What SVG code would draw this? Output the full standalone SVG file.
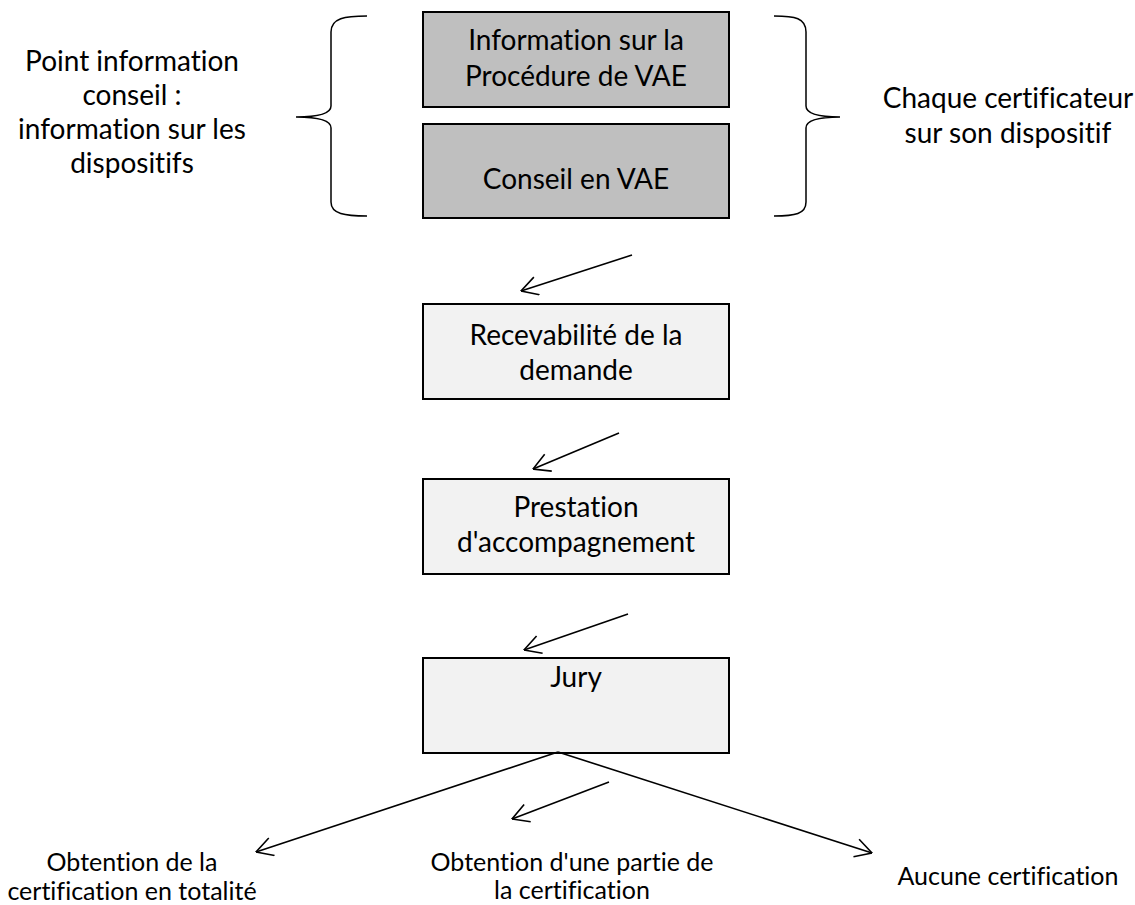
<svg xmlns="http://www.w3.org/2000/svg" width="1135" height="905" viewBox="0 0 1135 905">
<style>
text{font-family:Lato,"Open Sans","Liberation Sans",sans-serif;font-size:28px;fill:#000;text-anchor:middle;font-variant-ligatures:none;font-feature-settings:"liga" 0}
text.sm{font-size:25px}
.dark{fill:#bfbfbf;stroke:#000;stroke-width:2}
.light{fill:#f2f2f2;stroke:#000;stroke-width:2}
.brace{fill:none;stroke:#000;stroke-width:1.5}
.conn{fill:none;stroke:#000;stroke-width:1.6;marker-end:url(#arr)}
</style>
<defs>
<marker id="arr" viewBox="0 0 20 20" refX="19.5" refY="10" markerWidth="20" markerHeight="20" markerUnits="userSpaceOnUse" orient="auto">
<path d="M3,0.8 L19.5,10 L3,19.2" fill="none" stroke="#000" stroke-width="1.6"/>
</marker>
</defs>
<rect width="1135" height="905" fill="#fff"/>
<g id="info-procedure">
<rect class="dark" x="423" y="12" width="306" height="95"/>
<text x="576" y="50">Information sur la</text>
<text x="576" y="86">Procédure de VAE</text>
</g>
<g id="conseil-vae">
<rect class="dark" x="423" y="124" width="306" height="94"/>
<text x="576" y="189">Conseil en VAE</text>
</g>
<g id="left-brace">
<path class="brace" d="M367,16 C345,16 331,18 331,32 L331,106 C331,113 322,117 296,117 C322,117 331,121 331,128 L331,202 C331,214 345,216 367,216"/>
</g>
<g id="right-brace">
<path class="brace" d="M774,16 C795,16 806,18 806,32 L806,106 C806,113 815,117 840,117 C815,117 806,121 806,128 L806,202 C806,214 795,216 774,216"/>
</g>
<g id="point-info">
<text x="132" y="71">Point information</text>
<text x="132" y="105">conseil :</text>
<text x="132" y="139">information sur les</text>
<text x="132" y="173">dispositifs</text>
</g>
<g id="certificateur">
<text x="1008" y="108">Chaque certificateur</text>
<text x="1008" y="143">sur son dispositif</text>
</g>
<g id="recevabilite">
<rect class="light" x="423" y="304" width="306" height="95"/>
<text x="576" y="345">Recevabilité de la</text>
<text x="576" y="380">demande</text>
</g>
<g id="prestation">
<rect class="light" x="423" y="479" width="306" height="95"/>
<text x="576" y="517">Prestation</text>
<text x="576" y="552">d'accompagnement</text>
</g>
<g id="jury">
<rect class="light" x="423" y="658" width="306" height="95"/>
<text x="576" y="687">Jury</text>
</g>
<g id="totalite">
<text class="sm" x="132" y="871">Obtention de la</text>
<text class="sm" x="132" y="900">certification en totalité</text>
</g>
<g id="partie">
<text class="sm" x="572" y="871">Obtention d'une partie de</text>
<text class="sm" x="572" y="899">la certification</text>
</g>
<g id="aucune">
<text class="sm" x="1008" y="885">Aucune certification</text>
</g>
<g id="connectors">
<line class="conn" x1="632" y1="255" x2="521" y2="291"/>
<line class="conn" x1="619" y1="433" x2="533" y2="469"/>
<line class="conn" x1="628" y1="614" x2="524" y2="650"/>
<line class="conn" x1="558" y1="752" x2="256" y2="852"/>
<line class="conn" x1="609" y1="782" x2="512" y2="819"/>
<line class="conn" x1="558" y1="752" x2="872" y2="853"/>
</g>
</svg>
